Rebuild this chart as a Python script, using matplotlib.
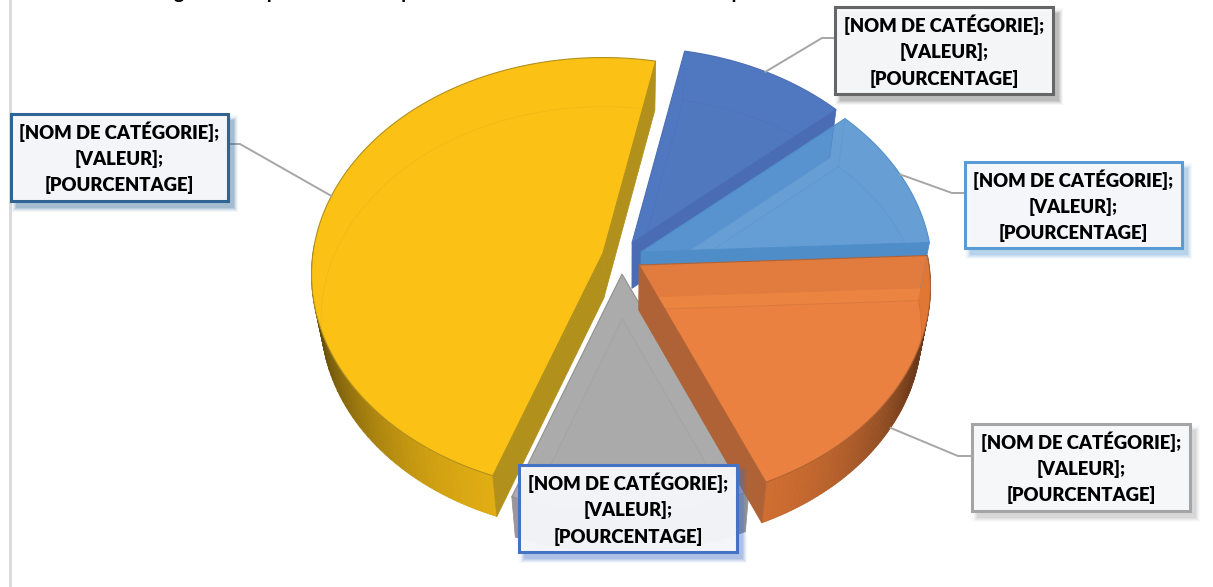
#!/usr/bin/env python3
"""Exploded 3D-look pie with five slices and field-code data labels."""

import numpy as np
import matplotlib
matplotlib.use("Agg")
import matplotlib.pyplot as plt
from matplotlib.patches import Polygon, Rectangle
from matplotlib.colors import to_rgb

plt.rcParams['font.family'] = ['Lato', 'DejaVu Sans']

# data, clockwise from the start angle
slice_names = ['bleu', 'bleu clair', 'orange', 'gris', 'jaune']
shares = [10.3, 10.8, 19.2, 12.1, 47.6]
label_text = '[NOM DE CATÉGORIE];\n[VALEUR];\n[POURCENTAGE]'
title_text = ('Figure 1 : Répartition des superficies totalement cultivées '
              'et de la plantation totale de cacao des districts')

# style per slice
top_colors = ['#4A74BE', '#5A97D2', '#EA7C37', '#A8A8A8', '#FBC115']
cut_colors = ['#4A6CB4', '#4E8DC8', '#AE6236', '#8E8E8E', '#B2901C']
box_colors = ['#666666', '#5B9BD5', '#A5A5A5', '#4472C4', '#2E6594']
top_alpha = [0.97, 0.92, 0.95, 0.97, 1.0]
floor_line_alpha = [0.3, 0.3, 0.25, 0.2, 0.12]
explode_px = [(3, -17.5), (12, -8.5), (10, 4.5), (-7, 13.5), (-26, -7.5)]

# layout in pixels
START_ANGLE = 78.5
CENTER = (629.0, 260.5)
RX, RY, PERSP = 290.0, 215.0, 0.1
DEPTH = 45.0
FLOOR_SCALE = (0.97, 0.98)
boxes = [(835, 7, 218, 87), (965, 162, 217, 86), (972, 424, 218, 87),
         (519, 465, 218, 87), (11, 114, 217, 87)]
elbows = [(-13, 31), (-13, 31), (-14, 32), None, (12, 30)]

draw_order = [0, 1, 4, 3, 2]


def project(theta_deg, apex):
    """Pie plane to screen, the far side a little smaller than the near side."""
    t = np.radians(theta_deg)
    w = 1 + PERSP * np.sin(t)
    return apex[0] + RX * np.cos(t) / w, apex[1] - RY * np.sin(t) / w


def to_floor(x, y):
    """Same point on the bottom of the pie, pulled in by the perspective."""
    return (CENTER[0] + (x - CENTER[0]) * FLOOR_SCALE[0],
            CENTER[1] + (y - CENTER[1]) * FLOOR_SCALE[1] + DEPTH)


def rim_shade(theta_deg):
    """Rim gets dark towards the left and right silhouette."""
    return 0.92 * (1 - 0.62 * np.abs(np.cos(np.radians(theta_deg))) ** 3)


def cut_visible(edge, inner):
    cross = edge[0] * inner[1] - edge[1] * inner[0]
    return cross < 0 if edge[0] > 0 else cross > 0


fig = plt.figure(figsize=(12.13, 5.87), dpi=100)
ax = fig.add_axes([0, 0, 1, 1])
ax.set_xlim(0, 1213)
ax.set_ylim(587, 0)
ax.axis('off')

# page edge on the left and the title cut off by the crop
ax.plot([10, 10], [0, 587], color='#D9D9D9', lw=2)
ax.text(612, -0.5, title_text, ha='center', va='baseline', fontsize=14,
        fontweight='bold', color='black', clip_on=False)

# slice angles from the values
sweeps = np.array(shares) / sum(shares) * 360
starts = START_ANGLE - np.concatenate(([0], np.cumsum(sweeps)[:-1]))
ends = starts - sweeps
anchors = {}

for i in draw_order:
    apex = (CENTER[0] + explode_px[i][0], CENTER[1] + explode_px[i][1])
    thetas = np.linspace(starts[i], ends[i], 120)
    xs, ys = project(thetas, apex)
    top = np.column_stack([np.r_[apex[0], xs], np.r_[apex[1], ys]])
    base = np.column_stack(to_floor(top[:, 0], top[:, 1]))
    color = np.array(to_rgb(top_colors[i]))
    side = np.array(to_rgb(cut_colors[i]))

    # floor of the slice, only seen through the top
    ax.add_patch(Polygon(base, closed=True, fc=side, ec='none', alpha=0.15))

    # outer rim, only where it faces the viewer
    for a, b in zip(thetas[:-1], thetas[1:]):
        if np.sin(np.radians((a + b) / 2)) > 0.03:
            continue
        xa, ya = project(a, apex)
        xb, yb = project(b, apex)
        quad = [(xa, ya), (xb, yb), to_floor(xb, yb), to_floor(xa, ya)]
        shade = color * rim_shade((a + b) / 2)
        ax.add_patch(Polygon(quad, closed=True, fc=shade, ec=shade, lw=0.5))

    # the two cut faces
    mid = project((starts[i] + ends[i]) / 2, apex)
    inner = (mid[0] - apex[0], mid[1] - apex[1])
    for end_angle in (starts[i], ends[i]):
        px, py = project(end_angle, apex)
        edge = (px - apex[0], py - apex[1])
        if cut_visible(edge, inner):
            quad = [apex, (px, py), to_floor(px, py), to_floor(*apex)]
            ax.add_patch(Polygon(quad, closed=True, fc=side, ec=side, lw=0.5))

    # top surface, then the floor outline showing through it
    ax.add_patch(Polygon(top, closed=True, fc=color, ec=side, lw=0.8, alpha=top_alpha[i]))
    ax.add_patch(Polygon(base, closed=True, fc='none', ec=side, lw=0.7, alpha=floor_line_alpha[i]))
    for end_angle in (starts[i], ends[i]):
        px, py = project(end_angle, apex)
        fx, fy = to_floor(px, py)
        ax.plot([px, fx], [py, fy], color=side, lw=0.6, alpha=floor_line_alpha[i])

    # leader lines start on the rim at the middle of the slice
    on_front = np.sin(np.radians((starts[i] + ends[i]) / 2)) < 0
    anchors[i] = to_floor(*mid) if on_front else mid

# leader lines
for i, elbow in enumerate(elbows):
    if elbow is None:
        continue
    x, y, w, h = boxes[i]
    edge_x = x + w if elbow[0] > 0 else x
    ex, ey = edge_x + elbow[0], y + elbow[1]
    ax.plot([edge_x, ex, anchors[i][0]], [ey, ey, anchors[i][1]],
            color='#A6A6A6', lw=1.4, zorder=5)

# label boxes with a soft shadow
for i, (x, y, w, h) in enumerate(boxes):
    for grow, alpha in zip([10, 7, 5, 3, 1], [0.05, 0.08, 0.10, 0.13, 0.16]):
        ax.add_patch(Rectangle((x + 5 - grow / 2, y + 6 - grow / 2), w + grow, h + grow,
                               fc=box_colors[i], ec='none', alpha=alpha, zorder=6))
    ax.add_patch(Rectangle((x, y), w, h, fc='#F8F9FB', ec='none', alpha=0.95, zorder=7))
    ax.add_patch(Rectangle((x, y), w, h, fc='none', ec=box_colors[i], lw=2.2, zorder=8))
    ax.text(x + w / 2, y + h / 2 + 0.5, label_text, ha='center', va='center', fontsize=13.3,
            fontweight='heavy', color='black', linespacing=1.55, zorder=9)

fig.savefig('out.png', dpi=100)
plt.close(fig)
